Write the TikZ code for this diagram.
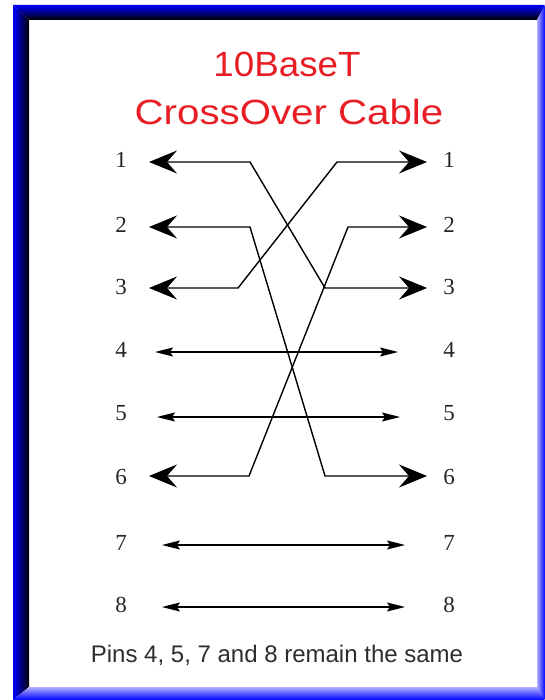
\documentclass[tikz,border=0pt]{standalone}
\usepackage{fontspec}
\setmainfont{Liberation Serif}
\newfontfamily\arialfont{Liberation Sans}
\usepackage{tikz}
\usetikzlibrary{arrows.meta}
\definecolor{frameblue}{RGB}{0,0,255}
\definecolor{framelight}{RGB}{175,175,255}
\definecolor{titlered}{RGB}{232,30,36}
\definecolor{notegray}{RGB}{45,45,45}

\begin{document}
\begin{tikzpicture}[x=1pt,y=-1pt,
  pinlabel/.style={inner sep=0pt,text=black!85,font=\fontsize{23}{23}\selectfont},
  titletext/.style={anchor=base,inner sep=0pt,text=titlered,font=\arialfont\fontsize{35}{35}\selectfont},
  notetext/.style={anchor=base,inner sep=0pt,text=notegray,font=\arialfont\fontsize{24}{24}\selectfont},
  crosswire/.style={draw=black,line width=1.4pt,{Stealth[length=28pt,width=23pt,inset=10pt]}-{Stealth[length=28pt,width=23pt,inset=10pt]}},
  samewire/.style={draw=black,line width=1.3pt,{Stealth[length=18pt,width=9pt,inset=3pt]}-{Stealth[length=18pt,width=9pt,inset=3pt]}}]
\useasboundingbox (0,0) rectangle (545,700);
% frame
\shade[top color=frameblue,bottom color=black] (13,5) -- (545,5) -- (537,20) -- (29,20) -- cycle;
\shade[left color=frameblue,right color=black] (13,5) -- (29,20) -- (29,687) -- (13,700) -- cycle;
\shade[left color=framelight,right color=frameblue] (537,20) -- (545,5) -- (545,700) -- (537,687) -- cycle;
\shade[top color=framelight,bottom color=frameblue] (29,687) -- (537,687) -- (545,700) -- (13,700) -- cycle;
% title
\node[titletext,xscale=1.05] (title1) at (287,77) {10BaseT};
\node[titletext,xscale=1.15] (title2) at (289,125) {CrossOver Cable};
% pin numbers
\node[pinlabel] (l1) at (121,160) {1};
\node[pinlabel] (l2) at (121,225) {2};
\node[pinlabel] (l3) at (121,287) {3};
\node[pinlabel] (l4) at (121,350) {4};
\node[pinlabel] (l5) at (121,413) {5};
\node[pinlabel] (l6) at (121,477) {6};
\node[pinlabel] (l7) at (121,543) {7};
\node[pinlabel] (l8) at (121,605) {8};
\node[pinlabel] (r1) at (449,160) {1};
\node[pinlabel] (r2) at (449,225) {2};
\node[pinlabel] (r3) at (449,287) {3};
\node[pinlabel] (r4) at (449,350) {4};
\node[pinlabel] (r5) at (449,413) {5};
\node[pinlabel] (r6) at (449,477) {6};
\node[pinlabel] (r7) at (449,543) {7};
\node[pinlabel] (r8) at (449,605) {8};
% wire ends and bends
\coordinate (lp1) at (149,162);
\coordinate (lp2) at (149,227);
\coordinate (lp3) at (149,288);
\coordinate (lp6) at (149,476);
\coordinate (rp1) at (427,162);
\coordinate (rp2) at (427,227);
\coordinate (rp3) at (427,288);
\coordinate (rp6) at (427,476);
\coordinate (lb1) at (250,162);
\coordinate (lb2) at (250,227);
\coordinate (lb3) at (238,288);
\coordinate (lb6) at (249,476);
\coordinate (rb1) at (337,162);
\coordinate (rb2) at (348,227);
\coordinate (rb3) at (325,288);
\coordinate (rb6) at (325,476);
\coordinate (lp4) at (155,352);
\coordinate (rp4) at (398,352);
\coordinate (lp5) at (157,417);
\coordinate (rp5) at (400,417);
\coordinate (lp7) at (162,545);
\coordinate (rp7) at (405,545);
\coordinate (lp8) at (162,607);
\coordinate (rp8) at (405,607);
% crossed pairs
\draw[crosswire] (lp1) -- (lb1) -- (rb3) -- (rp3);
\draw[crosswire] (lp3) -- (lb3) -- (rb1) -- (rp1);
\draw[crosswire] (lp2) -- (lb2) -- (rb6) -- (rp6);
\draw[crosswire] (lp6) -- (lb6) -- (rb2) -- (rp2);
% straight pairs
\draw[samewire] (lp4) -- (rp4);
\draw[samewire] (lp5) -- (rp5);
\draw[samewire] (lp7) -- (rp7);
\draw[samewire] (lp8) -- (rp8);
\node[notetext] (note) at (277,662) {Pins 4, 5, 7 and 8 remain the same};
\end{tikzpicture}
\end{document}
